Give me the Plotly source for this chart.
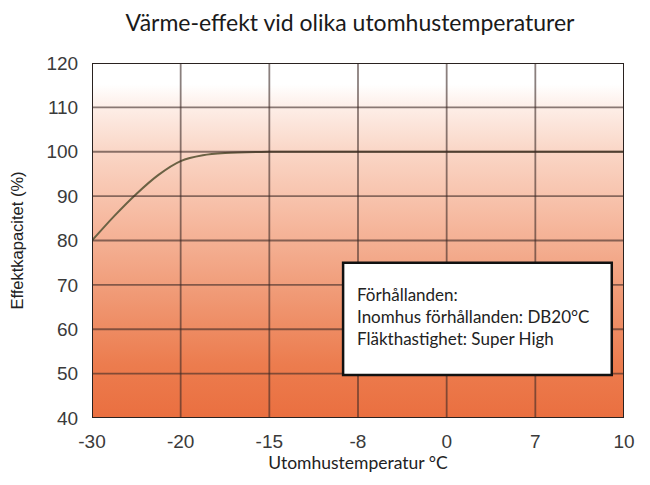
import plotly.graph_objects as go

# ---- data ----
temp_labels = ["-30", "-20", "-15", "-8", "0", "7", "10"]
tick_pos = [0, 1, 2, 3, 4, 5, 6]           # equally spaced category positions
y_ticks = [40, 50, 60, 70, 80, 90, 100, 110, 120]

curve_x = [0, 0.25, 0.5, 0.75, 1.0, 1.25, 1.5, 2.0, 3.0, 4.0, 5.0, 6.0]
curve_y = [80, 85.5, 90.5, 94.8, 97.9, 99.2, 99.7, 100, 100, 100, 100, 100]

y_min, y_max = 40, 120
x_min, x_max = 0, 6

fig = go.Figure()

# gradient background
fig.add_trace(go.Scatter(
    x=[x_min, x_max, x_max, x_min, x_min],
    y=[y_min, y_min, y_max, y_max, y_min],
    mode="lines", line=dict(width=0), fill="toself",
    fillgradient=dict(type="vertical", start=y_min, stop=y_max,
                      colorscale=[[0, "#ea6f40"], [0.15, "#ec7c4e"], [0.35, "#f09a76"],
                                  [0.55, "#f6b89e"], [0.75, "#fad6c6"], [0.87, "#fdede6"],
                                  [0.94, "#ffffff"], [1, "#ffffff"]]),
    hoverinfo="skip", showlegend=False))

# curve
fig.add_trace(go.Scatter(
    x=curve_x, y=curve_y, mode="lines",
    line=dict(color="#6b6244", width=2, shape="spline", smoothing=0.8),
    showlegend=False))

shapes = []
grid_col = "rgba(60,42,38,0.6)"
for xv in tick_pos[1:-1]:
    shapes.append(dict(type="line", xref="x", yref="y", x0=xv, x1=xv, y0=y_min, y1=y_max,
                       line=dict(color=grid_col, width=1.8), layer="above"))
for yv in y_ticks[1:-1]:
    shapes.append(dict(type="line", xref="x", yref="y", x0=x_min, x1=x_max, y0=yv, y1=yv,
                       line=dict(color=grid_col, width=1.8), layer="above"))
# frame
shapes.append(dict(type="rect", xref="x", yref="y", x0=x_min, x1=x_max, y0=y_min, y1=y_max,
                   line=dict(color="#2a2220", width=2), fillcolor="rgba(0,0,0,0)", layer="above"))
# info box
shapes.append(dict(type="rect", xref="paper", yref="paper", x0=0.472, x1=0.977, y0=0.121, y1=0.437,
                   line=dict(color="#111111", width=2.5), fillcolor="white", layer="above"))
fig.update_layout(shapes=shapes)

fig.add_annotation(
    xref="paper", yref="paper", x=0.494, y=0.285, xanchor="left", yanchor="middle",
    align="left", showarrow=False,
    text="Förhållanden:<br>Inomhus förhållanden: DB20°C<br>Fläkthastighet: Super High",
    font=dict(family="Lato", size=17, color="#222222"))

fig.update_layout(
    width=650, height=485,
    margin=dict(l=84, r=34, t=55, b=75),
    paper_bgcolor="white", plot_bgcolor="white",
    title=dict(text="Värme-effekt vid olika utomhustemperaturer", x=342/650, xanchor="center",
               y=1 - 15/485, yanchor="middle", font=dict(family="Lato", size=23, color="#1a1a1a")),
    xaxis=dict(range=[x_min, x_max], tickvals=tick_pos, ticktext=temp_labels,
               showgrid=False, zeroline=False, ticks="outside", ticklen=6,
               tickcolor="rgba(0,0,0,0)", showline=False, automargin=False,
               tickfont=dict(family="Liberation Sans", size=19, color="#3a3a3a"),
               title=dict(text="Utomhustemperatur °C", standoff=3,
                          font=dict(family="Lato", size=17.5, color="#222222"))),
    yaxis=dict(range=[y_min, y_max], tickvals=y_ticks, showgrid=False, zeroline=False,
               ticks="outside", ticklen=9, tickcolor="rgba(0,0,0,0)", showline=False,
               automargin=False,
               tickfont=dict(family="Liberation Sans", size=19, color="#3a3a3a"),
               title=dict(text="Effektkapacitet (%)", standoff=20,
                          font=dict(family="Liberation Sans", size=16.5, color="#222222"))),
)

fig.write_html("out.html")
